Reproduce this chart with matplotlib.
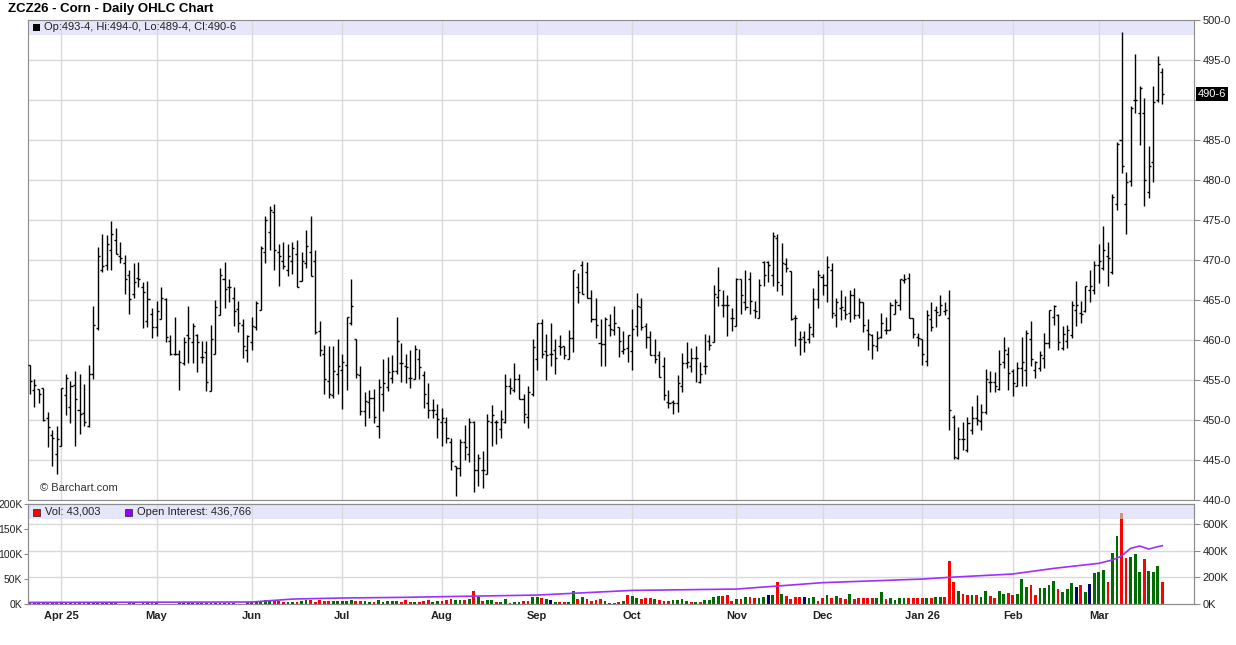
import matplotlib
matplotlib.use("Agg")
import matplotlib.pyplot as plt
from matplotlib.patches import Rectangle
from matplotlib.transforms import blended_transform_factory
import numpy as np
import pandas as pd

plt.rcParams['font.family'] = ['Liberation Sans', 'DejaVu Sans']

# ZCZ26 daily bars, Mar 21 2025 .. Mar 20 2026 (CBOT calendar)
holidays = ['2025-04-18', '2025-05-26', '2025-06-19', '2025-07-04', '2025-09-01',
            '2025-11-27', '2025-12-25', '2026-01-01', '2026-01-19', '2026-02-16']
start_date, end_date = '2025-03-21', '2026-03-20'

opens = [456.9, 453.8, 453.9, 454.0, 450.3, 448.1, 445.8, 446.8, 453.1, 451.6,
         454.4, 451.3, 450.9, 449.3, 455.8, 461.5, 468.7, 469.4, 471.3, 472.5,
         470.5, 469.6, 468.1, 465.8, 467.8, 466.6, 462.4, 463.2, 461.6, 462.6,
         465.1, 459.9, 458.3, 458.3, 457.1, 460.6, 459.7, 460.6, 457.9, 458.5,
         453.6, 458.3, 463.1, 467.6, 466.6, 465.3, 463.9, 461.9, 458.8, 459.8,
         461.6, 463.8, 471.0, 473.5, 476.0, 471.0, 469.9, 468.8, 469.9, 470.8,
         467.4, 469.6, 471.0, 469.9, 461.1, 458.3, 454.9, 453.1, 455.8, 456.3,
         456.9, 462.1, 460.1, 455.6, 451.1, 452.2, 452.7, 449.3, 453.3, 454.1,
         455.3, 456.1, 457.1, 456.7, 455.3, 455.1, 457.6, 455.6, 452.1, 451.2,
         450.8, 449.8, 449.8, 447.3, 444.2, 444.0, 447.3, 445.8, 449.8, 443.7,
         443.8, 443.3, 449.8, 449.8, 448.9, 449.8, 454.2, 453.7, 455.1, 452.6,
         450.4, 453.3, 457.6, 462.1, 458.6, 458.3, 458.8, 459.3, 459.3, 457.6,
         460.3, 466.6, 469.4, 468.5, 465.3, 462.6, 459.6, 459.5, 461.9, 461.3,
         461.6, 458.6, 459.0, 458.6, 461.7, 464.1, 461.7, 460.4, 458.1, 458.1,
         456.7, 452.3, 452.2, 452.1, 454.2, 457.1, 456.7, 457.8, 454.8, 456.7,
         459.9, 459.8, 465.4, 464.4, 464.4, 462.8, 461.7, 467.6, 464.8, 467.6,
         463.8, 462.8, 469.8, 469.8, 468.1, 472.7, 466.9, 469.5, 468.6, 462.8,
         460.1, 460.4, 460.1, 460.8, 465.1, 467.9, 466.9, 468.8, 463.1, 464.0,
         463.8, 463.4, 465.6, 463.1, 464.7, 461.3, 460.6, 459.2, 460.4, 461.3,
         461.2, 463.3, 464.4, 467.5, 467.7, 462.8, 460.4, 460.1, 457.4, 462.6,
         463.7, 463.1, 463.6, 462.8, 450.4, 445.2, 447.6, 446.3, 448.8, 450.3,
         449.9, 451.0, 454.8, 454.8, 453.9, 457.2, 458.3, 456.1, 454.3, 456.5,
         456.3, 460.1, 456.3, 456.5, 457.8, 459.6, 462.9, 463.1, 459.0, 459.9,
         460.6, 463.8, 463.4, 463.6, 466.2, 466.2, 469.4, 469.0, 470.5, 468.5,
         477.0, 485.0, 477.0, 479.9, 490.0, 488.4, 488.4, 478.5, 482.3, 490.0,
         493.5]
highs = [456.9, 455.1, 453.9, 454.0, 451.0, 448.8, 449.2, 454.0, 455.8, 454.9,
         456.1, 455.8, 454.5, 456.9, 464.2, 471.6, 473.3, 473.1, 474.9, 474.0,
         472.2, 470.6, 468.8, 469.6, 469.8, 467.2, 467.4, 464.0, 464.9, 466.6,
         465.2, 460.6, 462.9, 458.8, 460.4, 464.3, 462.1, 460.7, 459.9, 459.9,
         461.9, 465.0, 469.0, 469.7, 467.6, 466.6, 464.9, 462.6, 460.6, 462.9,
         464.9, 471.8, 475.5, 476.8, 477.0, 472.0, 472.3, 472.0, 472.3, 472.5,
         471.0, 473.8, 475.5, 471.3, 462.4, 459.4, 459.2, 459.2, 460.1, 458.2,
         462.9, 467.6, 460.1, 456.7, 453.5, 453.7, 453.9, 455.1, 457.6, 457.9,
         458.1, 462.9, 459.6, 458.2, 458.7, 459.4, 458.9, 456.1, 454.6, 452.6,
         452.0, 451.5, 450.4, 447.8, 444.3, 447.6, 449.4, 450.3, 449.9, 445.8,
         446.1, 450.7, 451.9, 450.0, 451.3, 455.8, 455.3, 457.1, 455.8, 453.3,
         454.2, 460.1, 462.1, 462.6, 460.8, 462.1, 460.1, 460.6, 459.3, 461.3,
         468.8, 468.4, 469.9, 469.7, 466.3, 465.3, 462.6, 462.9, 463.2, 464.2,
         461.6, 461.1, 460.6, 463.9, 465.9, 465.3, 462.1, 461.1, 460.1, 458.6,
         457.9, 453.8, 452.5, 455.6, 458.4, 459.8, 459.0, 459.2, 457.3, 460.8,
         460.6, 466.9, 469.1, 466.3, 465.6, 464.0, 467.8, 467.6, 468.8, 468.5,
         464.9, 467.6, 469.9, 469.9, 473.5, 473.3, 472.1, 470.2, 468.6, 463.1,
         461.1, 461.1, 462.1, 466.5, 468.8, 468.3, 470.5, 469.6, 465.3, 466.3,
         465.5, 466.3, 466.5, 465.3, 464.7, 462.6, 460.7, 461.1, 463.4, 462.9,
         464.7, 465.1, 467.6, 468.3, 468.4, 462.8, 460.9, 460.1, 463.8, 464.7,
         464.2, 465.6, 464.7, 466.2, 450.6, 449.1, 449.7, 450.4, 451.8, 453.1,
         452.0, 456.4, 456.1, 456.0, 458.8, 460.4, 459.1, 456.4, 457.2, 460.4,
         461.2, 462.4, 457.4, 458.6, 460.9, 463.8, 464.4, 463.3, 461.7, 461.9,
         464.9, 467.4, 464.9, 466.8, 468.8, 469.9, 472.0, 474.3, 472.3, 478.2,
         484.7, 498.5, 481.0, 489.3, 495.8, 491.8, 490.2, 484.3, 491.8, 495.5,
         494.0]
lows = [453.3, 451.6, 452.1, 449.9, 446.6, 444.3, 443.3, 446.8, 450.6, 449.6,
        446.8, 448.3, 449.3, 449.1, 455.1, 461.3, 468.5, 468.8, 468.8, 470.7,
        469.6, 465.8, 463.3, 465.3, 466.6, 461.5, 461.6, 460.3, 460.5, 462.6,
        459.8, 458.1, 458.1, 453.8, 456.9, 457.1, 457.1, 456.0, 457.1, 453.6,
        453.6, 458.3, 463.1, 464.0, 464.8, 461.8, 461.0, 457.8, 457.3, 458.8,
        461.3, 463.8, 469.6, 471.2, 468.8, 466.8, 468.9, 468.0, 468.2, 466.6,
        467.4, 469.0, 468.0, 460.8, 458.0, 453.3, 452.8, 452.8, 453.3, 451.4,
        453.8, 461.9, 455.3, 450.6, 449.3, 450.3, 449.6, 447.8, 451.1, 453.6,
        454.6, 455.8, 454.8, 454.6, 454.0, 455.1, 455.1, 451.5, 450.3, 450.3,
        447.8, 446.8, 447.1, 443.8, 440.5, 443.0, 445.0, 444.7, 441.0, 441.8,
        441.5, 443.3, 446.8, 447.0, 447.8, 449.6, 453.3, 453.5, 452.6, 449.6,
        449.0, 453.0, 456.3, 457.8, 455.0, 456.7, 455.8, 458.1, 457.6, 457.6,
        458.5, 464.6, 465.7, 465.3, 462.3, 460.3, 456.8, 456.8, 460.5, 460.6,
        457.9, 458.3, 457.3, 456.3, 460.5, 461.3, 459.0, 458.1, 457.1, 455.4,
        452.5, 451.5, 450.8, 451.0, 453.5, 456.5, 456.0, 454.8, 454.6, 455.8,
        458.8, 459.8, 464.3, 462.9, 460.5, 461.1, 461.7, 463.3, 463.8, 463.3,
        462.7, 462.8, 466.7, 467.2, 466.8, 466.1, 465.6, 468.5, 462.5, 459.3,
        458.1, 458.5, 459.6, 460.4, 464.0, 465.6, 464.8, 462.8, 461.6, 462.5,
        462.6, 462.3, 462.6, 462.8, 461.0, 458.8, 457.6, 458.6, 460.3, 460.8,
        461.2, 463.3, 463.8, 467.1, 462.8, 460.3, 459.3, 456.9, 456.8, 461.1,
        461.6, 463.1, 463.1, 448.8, 445.1, 445.1, 446.3, 446.0, 448.3, 449.4,
        448.8, 450.8, 453.5, 453.5, 453.8, 456.5, 453.8, 453.0, 454.3, 454.3,
        454.3, 456.8, 455.3, 456.1, 456.5, 459.0, 461.9, 458.8, 458.8, 459.0,
        460.3, 461.8, 462.1, 463.5, 464.8, 465.8, 467.1, 468.8, 466.8, 468.3,
        476.2, 480.9, 473.2, 479.2, 488.4, 484.4, 476.7, 477.7, 479.7, 489.7,
        489.5]
closes = [454.9, 454.4, 453.2, 450.0, 449.1, 447.8, 447.6, 454.0, 455.3, 454.3,
          452.6, 450.8, 449.8, 455.8, 461.9, 470.5, 469.3, 472.0, 473.3, 470.8,
          470.2, 467.6, 465.1, 467.3, 467.6, 466.0, 465.1, 461.6, 463.6, 465.2,
          460.4, 458.3, 458.3, 457.2, 459.7, 460.2, 461.8, 459.7, 457.9, 454.7,
          460.1, 464.1, 468.1, 466.4, 466.6, 463.6, 462.1, 459.3, 460.5, 461.8,
          464.6, 471.5, 475.0, 476.2, 471.2, 470.5, 469.3, 470.5, 471.5, 466.6,
          469.9, 471.8, 468.0, 461.0, 458.8, 455.1, 453.3, 456.1, 456.8, 457.3,
          462.9, 464.3, 455.8, 451.1, 452.4, 452.8, 450.4, 454.1, 454.6, 456.0,
          456.1, 459.9, 457.1, 456.6, 455.3, 458.9, 456.6, 453.3, 451.2, 451.3,
          450.1, 450.3, 447.8, 444.9, 444.0, 447.3, 446.6, 449.8, 443.8, 445.3,
          443.8, 449.9, 450.6, 449.7, 450.1, 454.2, 454.0, 455.1, 452.6, 450.8,
          453.5, 459.1, 462.1, 458.3, 458.1, 458.3, 457.8, 459.1, 458.1, 460.3,
          468.8, 466.0, 465.8, 465.3, 462.6, 461.9, 459.5, 462.6, 461.4, 462.1,
          459.9, 458.9, 460.6, 461.4, 464.3, 461.6, 460.4, 458.1, 457.6, 455.4,
          453.1, 452.1, 452.1, 454.6, 457.1, 457.3, 457.8, 457.8, 455.8, 456.7,
          459.4, 465.8, 466.3, 464.4, 464.4, 462.8, 467.6, 465.6, 464.1, 464.9,
          463.6, 466.9, 468.1, 469.4, 473.0, 467.2, 469.6, 469.0, 462.6, 462.8,
          460.1, 459.8, 461.6, 465.1, 468.1, 466.9, 469.1, 463.4, 464.7, 464.1,
          463.3, 465.6, 463.1, 464.8, 461.9, 460.8, 459.4, 460.3, 462.1, 461.3,
          464.4, 464.8, 467.6, 467.6, 462.8, 460.8, 460.3, 458.3, 463.1, 461.6,
          463.5, 464.4, 463.8, 451.3, 445.4, 447.6, 447.6, 449.6, 450.3, 450.0,
          451.0, 455.1, 454.8, 454.2, 457.0, 458.8, 455.9, 454.6, 456.5, 457.2,
          460.9, 457.6, 457.2, 458.1, 459.6, 463.8, 464.3, 459.8, 460.8, 461.3,
          464.4, 464.4, 463.3, 466.8, 466.8, 469.4, 469.9, 471.3, 470.2, 477.9,
          484.5, 481.8, 479.7, 489.0, 490.0, 491.5, 480.0, 481.8, 489.8, 494.5,
          490.75]

# daily volume in thousands, colour code g=up r=down n=unchanged
volumes = [1.5, 2, 2, 2, 2, 3, 2, 2, 2, 2, 2, 3, 2, 3, 3, 2, 2, 2, 2, 2,
           0.5, 0.5, 2, 2, 0.5, 2, 2, 2, 2, 0.5, 0.5, 0.5, 1, 2, 2, 2, 2, 2, 2, 2,
           2, 2, 2, 2, 2, 2, 0.5, 0.5, 4, 5, 5, 6, 8, 8, 6, 6, 4, 4, 4, 4,
           6, 8, 8, 4, 8, 6, 6, 6, 6, 6, 6, 8, 6, 6, 6, 4, 4, 8, 4, 6,
           6, 6, 4, 8,
           4.7, 4, 4.7, 6.7, 8, 4.7, 6.7, 6.7, 8, 10,
           8, 8, 8, 10, 26, 13.3, 6, 8, 8, 4.7,
           4.7, 10, 1.3, 4, 4, 6, 6, 13.3, 13.3, 11.3,
           9.3, 8, 4, 4, 4, 4, 26, 10, 13.3, 10,
           6, 8, 10, 6, 1.3, 1.3, 4, 6, 18, 16,
           12, 10, 12, 12, 10, 8, 6, 6, 8, 8,
           10, 6, 4, 4, 4, 8, 8, 14, 16, 16,
           18, 6, 10, 10, 14, 14, 12, 12, 14, 18,
           18, 44, 20, 16, 10, 14, 14, 14, 12, 14, 6,
           13, 19, 13, 17, 13, 10, 21, 10, 12, 12,
           13, 13, 12, 25, 10, 12, 8, 12, 12, 12,
           12, 12, 12, 12, 12, 14, 14, 14, 86, 44,
           26, 21, 19, 18, 19, 14, 26, 16, 12, 26,
           21, 23, 19, 21, 50, 34, 39, 18, 32, 32,
           38, 46, 30, 24, 30, 42, 34, 38, 24, 40,
           62, 64, 68, 44, 102, 136, 170, 92, 94, 100,
           64, 90, 66, 64, 76, 44]
vol_codes = ("rrrrrrrggr" "rrrgggrggr" "rrrggrrrgg" "rrnrgggrrr" "gggrgrrrgg"
             "ggggrrrggr" "ggrrrrrggg" "ggrrggrggg" "ggrr"
             "rgrrrggrrr" "ggrgrgrggr" "ggrggrrggr" "gngrrggrgr" "rrrggrrgrg"
             "grrrgrrrgg" "ggrgrggggr" "rrgrgrrggn" "grgrrrrnggr"
             "rgrgrrgrrr" "rrggrggggr" "rrrgrggrrr" "grrgrggrrg" "grrgggrrgg"
             "ggrgggnrgn" "gggrggrrgg" "grgggr")
vol_last = 43003
cap_date, cap_top = '2026-03-09', 183

oi_dates = ['2025-03-21', '2025-06-02', '2025-06-13', '2025-07-01', '2025-07-22',
            '2025-08-01', '2025-09-02', '2025-10-01', '2025-11-03', '2025-12-01',
            '2026-01-02', '2026-01-12', '2026-02-02', '2026-02-13', '2026-03-02',
            '2026-03-05', '2026-03-09', '2026-03-11', '2026-03-13', '2026-03-17',
            '2026-03-19', '2026-03-20']
oi_values = [12, 15, 37, 45, 50, 55, 67, 102, 112, 160,
             187, 200, 225, 267, 305, 330, 360, 417, 435, 412,
             430, 436.766]

dates = pd.bdate_range(start_date, end_date, freq='C', holidays=holidays)
x = np.arange(len(dates))
assert len(x) == len(closes) == len(volumes) == len(vol_codes)


def fmt_price(p):
    whole = int(p)
    return f"{whole}-{int(round((p - whole) * 8))}"


W, H = 1236, 645
fig = plt.figure(figsize=(W / 100, H / 100), dpi=100)


def box(x0, y0, x1, y1):
    return [x0 / W, 1 - y1 / H, (x1 - x0) / W, (y1 - y0) / H]


grid_c = '#DADADA'
spine_c = '#8C8C8C'
txt_c = '#222222'
xlim = (-0.375, 257.0)

month_idx = [i for i in range(1, len(dates)) if dates[i].month != dates[i - 1].month]
month_lbl = []
for k, i in enumerate(month_idx):
    d = dates[i]
    month_lbl.append(d.strftime('%b %y') if (k == 0 or d.month == 1) else d.strftime('%b'))

# ---- price panel
ax = fig.add_axes(box(28, 20, 1194, 500))
ax.set_xlim(*xlim)
ax.set_ylim(440, 500)
ax.add_patch(Rectangle((0, 1 - 15 / 480), 1, 15 / 480, transform=ax.transAxes,
                       facecolor='#E6E6FA', edgecolor='none', zorder=0))
ax.set_xticks(month_idx)
ax.set_xticklabels([])
ax.tick_params(axis='x', length=0)
price_ticks = list(range(440, 501, 5))
ax.set_yticks(price_ticks)
# the last-price box takes the place of the nearest grid label
ax.set_yticklabels(['' if abs(v - closes[-1]) < 2 else f"{v}-0" for v in price_ticks])
ax.yaxis.tick_right()
ax.tick_params(axis='y', length=4, color=spine_c, labelsize=8, labelcolor=txt_c, pad=2)
ax.grid(True, color=grid_c, lw=1, zorder=0.5)
ax.set_axisbelow(True)
for s in ax.spines.values():
    s.set_color(spine_c)

ax.vlines(x, lows, highs, color='black', lw=1.0, zorder=3)
ax.hlines(opens, x - 0.45, x, color='black', lw=1.0, zorder=3)
ax.hlines(closes, x, x + 0.45, color='black', lw=1.0, zorder=3)

tr = blended_transform_factory(ax.transAxes, ax.transData)
ax.text(1.0 + 4 / 1166, closes[-1], fmt_price(closes[-1]), transform=tr, va='center',
        ha='left', fontsize=8, color='white', clip_on=False,
        bbox=dict(facecolor='black', edgecolor='none', pad=1.5), zorder=5)

# ---- volume panel
axv = fig.add_axes(box(28, 504, 1194, 604))
axv.set_xlim(*xlim)
axv.set_ylim(0, 200)
axv.add_patch(Rectangle((0, 0.85), 1, 0.15, transform=axv.transAxes,
                        facecolor='#E6E6FA', edgecolor='none', zorder=0))
oi_top = 750
oi_ticks = [0, 200, 400, 600]
for t in oi_ticks[1:]:
    axv.axhline(t * 200 / oi_top, color=grid_c, lw=1, zorder=0.5)
axv.set_xticks(month_idx)
axv.set_xticklabels(month_lbl, fontweight='bold', fontsize=8, color=txt_c)
axv.tick_params(axis='x', length=0, pad=5)
axv.grid(True, axis='x', color=grid_c, lw=1, zorder=0.5)
axv.set_axisbelow(True)
axv.set_yticks([0, 50, 100, 150, 200])
axv.set_yticklabels(['0K', '50K', '100K', '150K', '200K'])
axv.tick_params(axis='y', length=3, color=spine_c, labelsize=7.5, labelcolor=txt_c, pad=1)
for s in axv.spines.values():
    s.set_color(spine_c)

cmap = {'g': '#006B00', 'r': '#FF0000', 'n': '#00006E'}
axv.bar(x, volumes, width=0.62, color=[cmap[c] for c in vol_codes], zorder=2)
ci = dates.get_loc(pd.Timestamp(cap_date))
axv.bar(ci, cap_top - volumes[ci], bottom=volumes[ci], width=0.62, color='#DD8E70', zorder=2)

axo = axv.twinx()
axo.set_ylim(0, oi_top)
axo.set_yticks(oi_ticks)
axo.set_yticklabels([f"{t}K" for t in oi_ticks])
axo.tick_params(axis='y', length=4, color=spine_c, labelsize=8, labelcolor=txt_c, pad=2)
for s in axo.spines.values():
    s.set_color(spine_c)
oi_x = [dates.get_loc(pd.Timestamp(d)) for d in oi_dates]
axo.plot(oi_x, oi_values, color='#9B30FF', lw=1.2, zorder=4)

# ---- texts and legends
fig.text(8 / W, 1 - 9 / H, 'ZCZ26 - Corn - Daily OHLC Chart', fontsize=9.5,
         fontweight='bold', va='center', color='black')
fig.patches.append(Rectangle((33 / W, 1 - 31 / H), 7 / W, 7 / H, transform=fig.transFigure,
                             facecolor='black', edgecolor='none'))
fig.text(44 / W, 1 - 27.5 / H,
         f"Op:{fmt_price(opens[-1])}, Hi:{fmt_price(highs[-1])}, "
         f"Lo:{fmt_price(lows[-1])}, Cl:{fmt_price(closes[-1])}",
         fontsize=8, va='center', color=txt_c)
fig.text(40 / W, 1 - 488 / H, '\u00a9 Barchart.com', fontsize=8, va='center', color='#333333')

fig.patches.append(Rectangle((33 / W, 1 - 515.5 / H), 7 / W, 7 / H, transform=fig.transFigure,
                             facecolor='#FF0000', edgecolor='#333333', lw=0.6))
fig.text(45 / W, 1 - 512 / H, f"Vol: {vol_last:,}", fontsize=8, va='center', color=txt_c)
fig.patches.append(Rectangle((125 / W, 1 - 515.5 / H), 7 / W, 7 / H, transform=fig.transFigure,
                             facecolor='#9900FF', edgecolor='#333333', lw=0.6))
fig.text(137 / W, 1 - 512 / H, f"Open Interest: {int(round(oi_values[-1] * 1000)):,}",
         fontsize=8, va='center', color=txt_c)

fig.savefig('out.png', dpi=100)
